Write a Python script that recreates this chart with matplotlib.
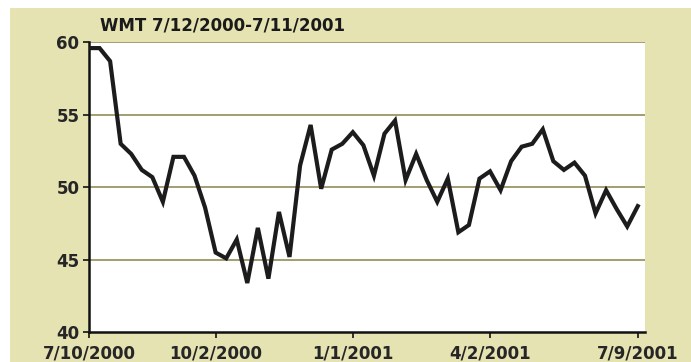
import pandas as pd
import matplotlib
matplotlib.use('Agg')
import matplotlib.pyplot as plt
import matplotlib.dates as mdates
from matplotlib.patches import Rectangle

# weekly closing prices, WMT
weeks = pd.date_range('2000-07-10', periods=53, freq='7D')
prices = [59.6, 59.6, 58.7, 53.0, 52.3, 51.2, 50.7, 49.0, 52.1, 52.1,
          50.8, 48.6, 45.5, 45.1, 46.4, 43.4, 47.2, 43.7, 48.3, 45.2,
          51.5, 54.3, 49.9, 52.6, 53.0, 53.8, 52.9, 50.8, 53.7, 54.6,
          50.5, 52.3, 50.5, 49.0, 50.6, 46.9, 47.4, 50.6, 51.1, 49.8,
          51.8, 52.8, 53.0, 54.0, 51.8, 51.2, 51.7, 50.8, 48.2, 49.8,
          48.5, 47.3, 48.7]
tick_dates = ['2000-07-10', '2000-10-02', '2001-01-01', '2001-04-02', '2001-07-09']
tick_labels = ['7/10/2000', '10/2/2000', '1/1/2001', '4/2/2001', '7/9/2001']
y_ticks = [40, 45, 50, 55, 60]
title = 'WMT 7/12/2000-7/11/2001'

bg = '#e5e3b2'
grid_col = '#9c9664'
ink = '#262626'

fig = plt.figure(figsize=(6.91, 3.62), dpi=100, facecolor='white')
# beige panel behind the chart
fig.patches.append(Rectangle((10 / 691, 0), 1 - 10 / 691, 1 - 8 / 362,
                             transform=fig.transFigure, facecolor=bg,
                             edgecolor='none', zorder=-5))

ax = fig.add_axes([89 / 691, 1 - 332.3 / 362, (645 - 89) / 691, (332.3 - 42.3) / 362])
ax.set_zorder(2)
ax.set_facecolor('white')

for v in y_ticks[1:]:
    ax.axhline(v, color=grid_col, lw=1.3, zorder=1)

ax.plot(weeks, prices, color='#1c1c1c', lw=3.0, solid_joinstyle='miter', zorder=3)

ax.set_ylim(40, 60)
ax.set_yticks(y_ticks)
ax.set_xlim(pd.Timestamp('2000-07-10'), pd.Timestamp('2001-07-09') + pd.Timedelta(days=4.8))
ax.set_xticks([mdates.date2num(pd.Timestamp(d)) for d in tick_dates])
ax.set_xticklabels(tick_labels)

for side in ['top', 'right']:
    ax.spines[side].set_visible(False)
for side in ['left', 'bottom']:
    ax.spines[side].set_color('#111111')
    ax.spines[side].set_linewidth(1.8)

ax.tick_params(axis='y', length=4, width=1.2, color='#111111', pad=3,
               labelsize=12, labelcolor=ink)
ax.tick_params(axis='x', length=4, width=1.2, color='#111111', pad=5,
               labelsize=12, labelcolor=ink)
for lbl in ax.get_xticklabels() + ax.get_yticklabels():
    lbl.set_fontweight('bold')

fig.text(100 / 691, 1 - 25 / 362, title, ha='left', va='center',
         fontsize=12, fontweight='heavy', color='#1a1a1a')

fig.savefig('out.png', dpi=100, facecolor=fig.get_facecolor())
